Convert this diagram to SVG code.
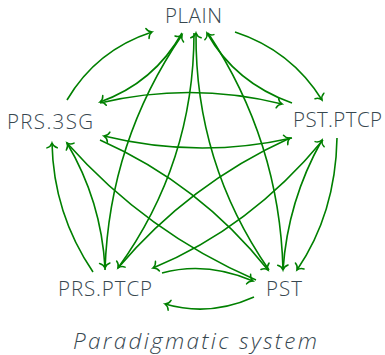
<svg xmlns="http://www.w3.org/2000/svg" width="385" height="355" viewBox="0 0 385 355">
<style>
.lbl{font-family:"Open Sans","Lato","Liberation Sans",sans-serif;font-weight:300;font-size:20.5px;fill:#37474f}
.cap{font-family:"Open Sans","Lato","Liberation Sans",sans-serif;font-weight:300;font-style:italic;font-size:22.5px;fill:#37474f}
.e{fill:none;stroke:#008000;stroke-width:1.6;marker-end:url(#tip)}
</style>
<defs>
<marker id="tip" markerUnits="userSpaceOnUse" markerWidth="12" markerHeight="12" refX="0" refY="0" viewBox="-6 -6 12 12" orient="auto" overflow="visible">
<path d="M-4.8,-5.2 C-4,-2.3 -1.7,-0.6 0,0 C-1.7,0.6 -4,2.3 -4.8,5.2" fill="none" stroke="#008000" stroke-width="1.5" stroke-linecap="round"/>
</marker>
</defs>
<g id="connectors">
<path class="e" d="M67,100 Q96.5,50 152,32"/>
<path class="e" d="M182,33 Q153.8,82.9 100,102"/>
<path class="e" d="M235,32 Q290.9,50.2 322,100"/>
<path class="e" d="M292,103 Q235.2,82.9 207,33"/>
<path class="e" d="M100,103 Q191,81.5 282,104"/>
<path class="e" d="M292,138 Q198,159 104,136"/>
<path class="e" d="M105,270 Q109.3,141.3 182,35"/>
<path class="e" d="M194,33 Q194,162.9 118,268"/>
<path class="e" d="M269,270 Q195,163 196,33"/>
<path class="e" d="M208,33 Q279.7,141.3 283,270"/>
<path class="e" d="M67,143 Q101.3,200.9 105,268"/>
<path class="e" d="M93,272 Q53.4,213.5 52,143"/>
<path class="e" d="M337,138 Q335.6,213.5 297,270"/>
<path class="e" d="M283,270 Q287.7,200.9 322,140"/>
<path class="e" d="M100,140 Q200,184.4 268,270"/>
<path class="e" d="M256,280 Q146.3,232.5 67,143"/>
<path class="e" d="M118,268 Q189,184 290,138"/>
<path class="e" d="M323,140 Q250,228 153,268"/>
<path class="e" d="M162,273 Q206,261 253,281"/>
<path class="e" d="M254,297 Q209.5,317 165,304"/>
</g>
<g id="PLAIN"><text class="lbl" x="165" y="23" textLength="57">PLAIN</text></g>
<g id="PRS3SG"><text class="lbl" x="7" y="129" textLength="86">PRS.3SG</text></g>
<g id="PSTPTCP"><text class="lbl" x="293" y="127" textLength="89">PST.PTCP</text></g>
<g id="PRSPTCP"><text class="lbl" x="58" y="296" textLength="94">PRS.PTCP</text></g>
<g id="PST"><text class="lbl" x="266" y="296" textLength="36">PST</text></g>
<text class="cap" x="73" y="349" textLength="244">Paradigmatic system</text>
</svg>
